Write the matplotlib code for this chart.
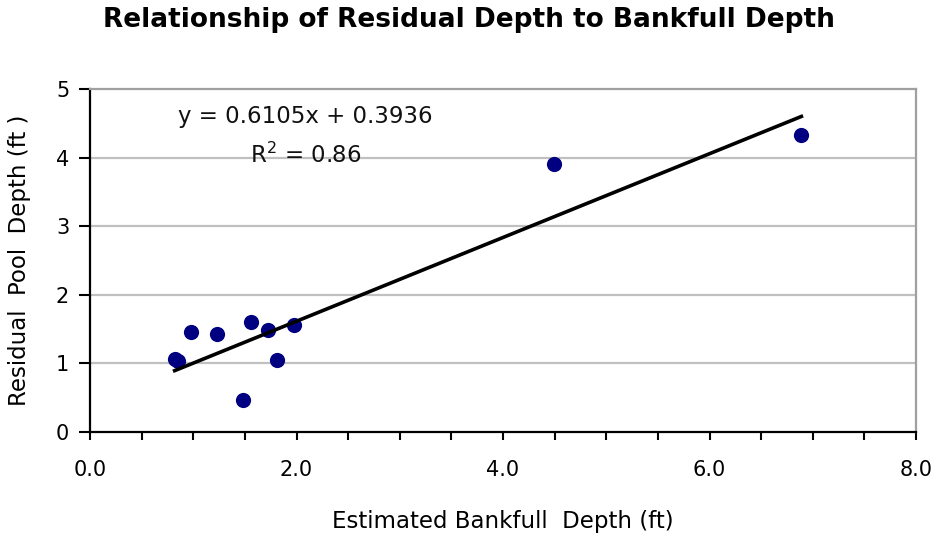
import matplotlib
matplotlib.use("Agg")
import matplotlib.pyplot as plt
import numpy as np
from matplotlib.ticker import MultipleLocator, FormatStrFormatter

# Estimated bankfull depth vs residual pool depth (ft)
bankfull = [0.82, 0.85, 0.98, 1.23, 1.48, 1.56, 1.72, 1.81, 1.98, 4.49, 6.89]
residual = [1.06, 1.03, 1.46, 1.43, 0.47, 1.61, 1.48, 1.05, 1.56, 3.91, 4.33]

# Linear trend reported on the chart
slope = 0.6105
intercept = 0.3936
r_squared = 0.86

title = "Relationship of Residual Depth to Bankfull Depth"
x_label = "Estimated Bankfull  Depth (ft)"
y_label = "Residual  Pool  Depth (ft )"

plt.rcParams['font.family'] = ['DejaVu Sans']

fig = plt.figure(figsize=(9.38, 5.39), dpi=100)
ax = fig.add_axes([90 / 938, 1 - 432 / 539, (916 - 90) / 938, (432 - 89) / 539])

ax.set_xlim(0, 8)
ax.set_ylim(0, 5)

# horizontal gridlines
for yv in range(1, 5):
    ax.axhline(yv, color="#c0c0c0", lw=1.6, zorder=0)

ax.scatter(bankfull, residual, s=120, color="#000080", zorder=3, linewidths=0)

xs = np.array([min(bankfull), max(bankfull)])
ax.plot(xs, slope * xs + intercept, color="black", lw=2.6, zorder=4)

ax.text(2.09, 4.60, f"y = {slope}x + {intercept}", ha="center", va="center",
        fontsize=16.5, color="#111111")
ax.text(2.09, 4.04, f"R$^2$ = {r_squared}", ha="center", va="center",
        fontsize=16.5, color="#111111")

ax.xaxis.set_major_locator(MultipleLocator(2))
ax.xaxis.set_minor_locator(MultipleLocator(0.5))
ax.xaxis.set_major_formatter(FormatStrFormatter("%.1f"))
ax.yaxis.set_major_locator(MultipleLocator(1))

ax.tick_params(axis="x", which="both", direction="out", length=6, width=1.5,
               labelsize=15, pad=14)
ax.tick_params(axis="y", which="major", direction="out", length=8, width=1.5,
               labelsize=15, pad=7)

for side in ("left", "bottom"):
    ax.spines[side].set_color("black")
    ax.spines[side].set_linewidth(1.6)
for side in ("top", "right"):
    ax.spines[side].set_color("#a0a0a0")
    ax.spines[side].set_linewidth(1.6)

ax.set_xlabel(x_label, fontsize=16.5, labelpad=22)
ax.set_ylabel(y_label, fontsize=16.5, labelpad=18)

fig.text(0.5, 1 - 20 / 539, title, ha="center", va="center",
         fontsize=19, fontweight="bold")

fig.savefig("out.png", dpi=100)
